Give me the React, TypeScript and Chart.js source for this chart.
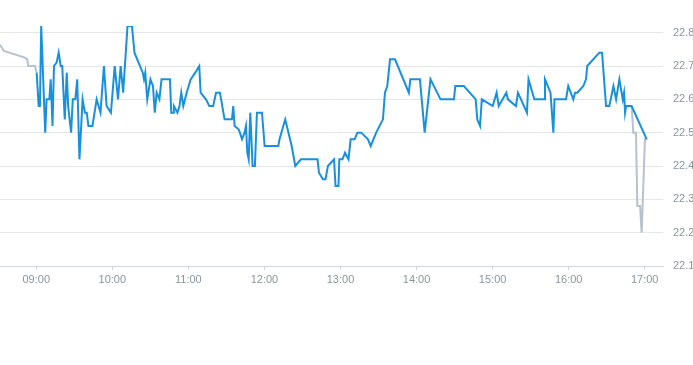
import { useEffect, useRef } from "react";
import { Chart, registerables } from "chart.js";

Chart.register(...registerables);

// ---- data ----
const AXIS_START = "08:31:25";
const AXIS_END = "17:14:25";
const HOUR_TICKS = ["09:00", "10:00", "11:00", "12:00", "13:00", "14:00", "15:00", "16:00", "17:00"];
const PRICE_TICKS = [22.1, 22.2, 22.3, 22.4, 22.5, 22.6, 22.7, 22.8];
const PRICE_MIN = 22.1;
const PRICE_MAX = 22.82;

const sessionTimes = [
  "09:00:20", "09:01:55", "09:02:55", "09:03:55", "09:07:05", "09:08:10", "09:10:20", "09:11:25", "09:12:50", "09:14:00",
  "09:16:05", "09:17:40", "09:19:20", "09:20:30", "09:22:30", "09:24:05", "09:25:10", "09:27:30", "09:28:50", "09:30:50",
  "09:32:20", "09:34:05", "09:36:35", "09:38:25", "09:39:50", "09:41:10", "09:44:20", "09:47:40", "09:50:40", "09:53:25",
  "09:55:30", "09:58:55", "10:01:55", "10:04:30", "10:06:35", "10:08:35", "10:12:00", "10:15:30", "10:17:30", "10:24:00",
  "10:25:00", "10:26:00", "10:27:35", "10:30:05", "10:32:05", "10:33:30", "10:35:00", "10:37:10", "10:38:50", "10:45:30",
  "10:46:30", "10:48:05", "10:48:35", "10:51:25", "10:53:00", "10:54:25", "10:56:00", "10:58:40", "11:01:50", "11:05:25",
  "11:08:35", "11:09:40", "11:13:55", "11:16:30", "11:19:35", "11:21:50", "11:24:55", "11:28:35", "11:34:25", "11:35:25",
  "11:36:30", "11:39:40", "11:40:40", "11:42:20", "11:44:20", "11:45:25", "11:46:30", "11:47:35", "11:48:50", "11:50:40",
  "11:52:30", "11:54:05", "11:58:05", "12:00:10", "12:10:55", "12:11:55", "12:16:25", "12:21:30", "12:24:20", "12:28:50",
  "12:41:55", "12:43:00", "12:46:10", "12:48:10", "12:50:05", "12:54:55", "12:56:05", "12:58:25", "12:59:05", "13:01:35",
  "13:03:35", "13:06:20", "13:08:00", "13:11:10", "13:13:20", "13:16:25", "13:21:40", "13:23:50", "13:28:10", "13:33:30",
  "13:35:05", "13:36:55", "13:39:05", "13:43:00", "13:53:55", "13:55:05", "14:02:40", "14:06:25", "14:11:00", "14:18:55",
  "14:29:30", "14:30:35", "14:37:20", "14:46:40", "14:47:55", "14:50:05", "14:51:30", "15:00:05", "15:03:10", "15:04:50",
  "15:10:50", "15:12:05", "15:18:25", "15:20:00", "15:27:05", "15:28:20", "15:32:55", "15:40:35", "15:41:20", "15:45:40",
  "15:47:55", "15:48:50", "15:57:55", "15:59:40", "16:03:40", "16:05:00", "16:06:50", "16:11:35", "16:13:40", "16:14:40",
  "16:24:10", "16:26:20", "16:29:30", "16:32:05", "16:35:20", "16:37:25", "16:40:00", "16:42:40", "16:43:40", "16:44:30",
  "16:45:20", "16:49:40", "17:01:35",
];
const sessionPrices = [
  22.68, 22.58, 22.58, 22.82, 22.50, 22.60, 22.60, 22.66, 22.52, 22.70,
  22.71, 22.74, 22.70, 22.70, 22.54, 22.68, 22.58, 22.50, 22.60, 22.60,
  22.66, 22.42, 22.60, 22.56, 22.56, 22.52, 22.52, 22.60, 22.56, 22.70,
  22.58, 22.56, 22.70, 22.60, 22.70, 22.62, 22.82, 22.82, 22.74, 22.68,
  22.66, 22.68, 22.60, 22.66, 22.64, 22.56, 22.62, 22.60, 22.66, 22.66,
  22.56, 22.56, 22.58, 22.56, 22.58, 22.62, 22.58, 22.62, 22.66, 22.68,
  22.70, 22.62, 22.60, 22.58, 22.58, 22.62, 22.62, 22.54, 22.54, 22.58,
  22.52, 22.51, 22.50, 22.48, 22.50, 22.52, 22.44, 22.42, 22.56, 22.40,
  22.40, 22.56, 22.56, 22.46, 22.46, 22.48, 22.54, 22.46, 22.40, 22.42,
  22.42, 22.38, 22.36, 22.36, 22.40, 22.42, 22.34, 22.34, 22.42, 22.42,
  22.44, 22.42, 22.48, 22.48, 22.50, 22.50, 22.48, 22.46, 22.50, 22.54,
  22.62, 22.64, 22.72, 22.72, 22.62, 22.66, 22.66, 22.50, 22.66, 22.60,
  22.60, 22.64, 22.64, 22.60, 22.54, 22.52, 22.60, 22.58, 22.62, 22.58,
  22.62, 22.60, 22.58, 22.62, 22.56, 22.66, 22.60, 22.60, 22.66, 22.62,
  22.50, 22.60, 22.60, 22.64, 22.60, 22.62, 22.62, 22.64, 22.66, 22.70,
  22.74, 22.74, 22.58, 22.58, 22.64, 22.60, 22.66, 22.60, 22.62, 22.56,
  22.58, 22.58, 22.48,
];

const preTimes = ["08:31:25", "08:34:30", "08:51:05", "08:52:55", "08:53:40", "08:59:00", "09:00:20"];
const prePrices = [22.764, 22.745, 22.725, 22.72, 22.70, 22.70, 22.68];

const postTimes = ["16:49:40", "16:51:00", "16:53:05", "16:54:10", "16:56:20", "16:57:35", "17:00:10", "17:01:35"];
const postPrices = [22.58, 22.50, 22.50, 22.28, 22.28, 22.20, 22.48, 22.48];

// ---- styles ----
const BLUE = "#1890dd";
const GRAY = "#b6c2cc";
const TICK_COLOR = "#8a949e";
const GRID_COLOR = "#e4e7ea";
const AXIS_COLOR = "#d0d5da";

const toMin = (s: string) => {
  const [h, m, sec = "0"] = s.split(":");
  return Number(h) * 60 + Number(m) + Number(sec) / 60;
};
const fmtHour = (v: number) => {
  const h = Math.round(v / 60);
  return (h < 10 ? "0" : "") + h + ":00";
};

export default function App() {
  const ref = useRef<HTMLCanvasElement>(null);

  useEffect(() => {
    const session = sessionTimes.map((t, i) => ({ x: toMin(t), y: sessionPrices[i] }));
    const outside: { x: number; y: number | null }[] = [
      ...preTimes.map((t, i) => ({ x: toMin(t), y: prePrices[i] })),
      { x: toMin("12:00"), y: null },
      ...postTimes.map((t, i) => ({ x: toMin(t), y: postPrices[i] })),
    ];
    const font = { family: "'Liberation Sans', Arial, sans-serif", size: 11 };

    const chart = new Chart(ref.current!, {
      type: "line",
      data: {
        datasets: [
          {
            data: session,
            borderColor: BLUE,
            borderWidth: 2,
            pointRadius: 0,
            tension: 0,
            fill: false,
          },
          {
            data: outside as any,
            borderColor: GRAY,
            borderWidth: 2,
            pointRadius: 0,
            tension: 0,
            fill: false,
            spanGaps: false,
          },
        ],
      },
      options: {
        responsive: false,
        animation: false,
        events: [],
        layout: { padding: { top: 26, left: 0, right: 0, bottom: 0 } },
        plugins: { legend: { display: false }, tooltip: { enabled: false } },
        scales: {
          x: {
            type: "linear",
            min: toMin(AXIS_START),
            max: toMin(AXIS_END),
            afterBuildTicks: (s: any) => {
              s.ticks = HOUR_TICKS.map((h) => ({ value: toMin(h) }));
            },
            afterFit: (s: any) => {
              s.height = 24;
            },
            ticks: {
              callback: (v: any) => fmtHour(Number(v)),
              color: TICK_COLOR,
              font,
              padding: 3,
              maxRotation: 0,
              autoSkip: false,
            },
            grid: { drawOnChartArea: false, tickLength: 4, color: AXIS_COLOR },
            border: { color: AXIS_COLOR },
          },
          y: {
            position: "right",
            min: PRICE_MIN,
            max: PRICE_MAX,
            afterBuildTicks: (s: any) => {
              s.ticks = PRICE_TICKS.map((v) => ({ value: v }));
            },
            afterFit: (s: any) => {
              s.width = 34;
            },
            ticks: {
              callback: (v: any) => Number(v).toFixed(1),
              color: TICK_COLOR,
              font,
              padding: 10,
            },
            grid: { color: GRID_COLOR, drawTicks: false },
            border: { display: false },
          },
        },
      },
    });
    return () => chart.destroy();
  }, []);

  return (
    <div
      style={{
        position: "fixed",
        left: 0,
        top: 0,
        width: 693,
        height: 365,
        overflow: "hidden",
        background: "#fff",
      }}
    >
      <canvas ref={ref} width={697} height={290} style={{ display: "block", width: 697, height: 290 }} />
    </div>
  );
}
